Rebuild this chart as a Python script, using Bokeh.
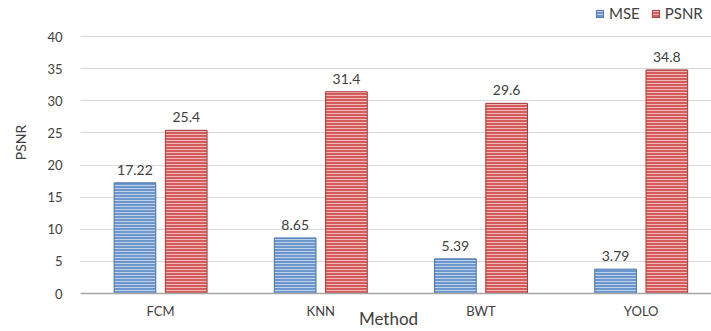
import math
from bokeh.plotting import figure
from bokeh.models import ColumnDataSource, Range1d, FixedTicker, Legend, LegendItem, Label, Grid
from bokeh.core.properties import value
from bokeh.embed import file_html
from bokeh.resources import INLINE

methods = ["FCM", "KNN", "BWT", "YOLO"]
mse = [17.22, 8.65, 5.39, 3.79]
psnr = [25.4, 31.4, 29.6, 34.8]
y_ticks = [0, 5, 10, 15, 20, 25, 30, 35, 40]

FONT = "Lato"
W, H = 711, 331
X0_PX, CAT_PX = 80, 160.2        # screen column of the plot's left edge, pixels per category
Y0_PX, Y40_PX = 293, 36          # screen rows of 0 and 40
ppu = (Y0_PX - Y40_PX) / 40.0
y_start = -(H - Y0_PX) / ppu
y_end = 40 + Y40_PX / ppu
x_start = -X0_PX / CAT_PX
x_end = (W - X0_PX) / CAT_PX

centers = [i + 0.5 for i in range(len(methods))]
off = 0.16
bw = 0.26

src = ColumnDataSource(dict(
    xm=[c - off for c in centers], xp=[c + off for c in centers],
    mse=mse, psnr=psnr,
    mse_lbl=[f"{v:g}" for v in mse], psnr_lbl=[f"{v:g}" for v in psnr],
))

p = figure(width=W, height=H, output_backend="svg", toolbar_location=None,
           x_range=Range1d(x_start, x_end), y_range=Range1d(y_start, y_end),
           min_border_left=0, min_border_right=0, min_border_top=0, min_border_bottom=0)
p.outline_line_color = None
p.background_fill_color = "white"
p.border_fill_color = "white"

# horizontal grid lines only over the plotting area
if "cross_bounds" in Grid.properties():
    p.ygrid.cross_bounds = (0, x_end)
    p.ygrid.ticker = FixedTicker(ticks=y_ticks)
    p.ygrid.grid_line_color = "#d9d9d9"
    p.ygrid.grid_line_width = 1
else:
    p.ygrid.grid_line_color = None
    p.segment(x0=[0] * len(y_ticks), x1=[x_end] * len(y_ticks), y0=y_ticks, y1=y_ticks,
              line_color="#d9d9d9", line_width=1)
p.xgrid.grid_line_color = None

r_mse = p.vbar(x="xm", top="mse", bottom=0, width=bw, source=src,
               fill_color="#6b97cd", line_color="#4a74aa", line_width=1,
               hatch_pattern="horizontal_line", hatch_color="#bcd0ea", hatch_scale=3, hatch_weight=1)
r_psnr = p.vbar(x="xp", top="psnr", bottom=0, width=bw, source=src,
                fill_color="#d25c5c", line_color="#a83838", line_width=1,
                hatch_pattern="horizontal_line", hatch_color="#f2b9b9", hatch_scale=3, hatch_weight=1)

p.text(x="xm", y="mse", text="mse_lbl", source=src, text_align="center", text_baseline="bottom",
       y_offset=-8, text_font=value(FONT), text_font_size="14px", text_color="#404040")
p.text(x="xp", y="psnr", text="psnr_lbl", source=src, text_align="center", text_baseline="bottom",
       y_offset=-8, text_font=value(FONT), text_font_size="14px", text_color="#404040")

# x axis sits on the zero line
p.xaxis.fixed_location = 0
p.xaxis.bounds = (0, x_end)
p.xaxis.ticker = FixedTicker(ticks=centers)
p.xaxis.major_label_overrides = {c: m for c, m in zip(centers, methods)}
p.xaxis.axis_line_color = "#a6a6a6"
p.xaxis.axis_line_width = 1.5
p.xaxis.major_tick_line_color = None
p.xaxis.minor_tick_line_color = None
p.xaxis.major_label_standoff = 3
p.xaxis.major_label_text_font = FONT
p.xaxis.major_label_text_font_size = "13px"
p.xaxis.major_label_text_color = "#404040"

# y axis at the left edge of the plotting area
p.yaxis.fixed_location = 0
p.yaxis.ticker = FixedTicker(ticks=y_ticks)
p.yaxis.axis_line_color = None
p.yaxis.major_tick_line_color = None
p.yaxis.minor_tick_line_color = None
p.yaxis.major_label_standoff = 12
p.yaxis.major_label_text_font = FONT
p.yaxis.major_label_text_font_size = "13px"
p.yaxis.major_label_text_color = "#404040"

# axis titles
p.add_layout(Label(x=388, y=H - 318, x_units="screen", y_units="screen", text="Method",
                   text_align="center", text_baseline="middle", text_font=FONT,
                   text_font_size="17px", text_color="#404040"))
p.add_layout(Label(x=20, y=H - 142, x_units="screen", y_units="screen", text="PSNR",
                   angle=math.pi / 2, text_align="center", text_baseline="middle", text_font=FONT,
                   text_font_size="14px", text_color="#404040"))

legend = Legend(items=[LegendItem(label="MSE", renderers=[r_mse]),
                       LegendItem(label="PSNR", renderers=[r_psnr])],
                orientation="horizontal", location=(595, H - 22),
                glyph_width=9, glyph_height=9, label_standoff=5, spacing=11,
                padding=4, margin=0,
                label_text_font=FONT, label_text_font_size="15px", label_text_color="#404040",
                border_line_color=None, background_fill_alpha=0)
p.add_layout(legend, "center")

open("out.html", "w").write(file_html(p, INLINE))
